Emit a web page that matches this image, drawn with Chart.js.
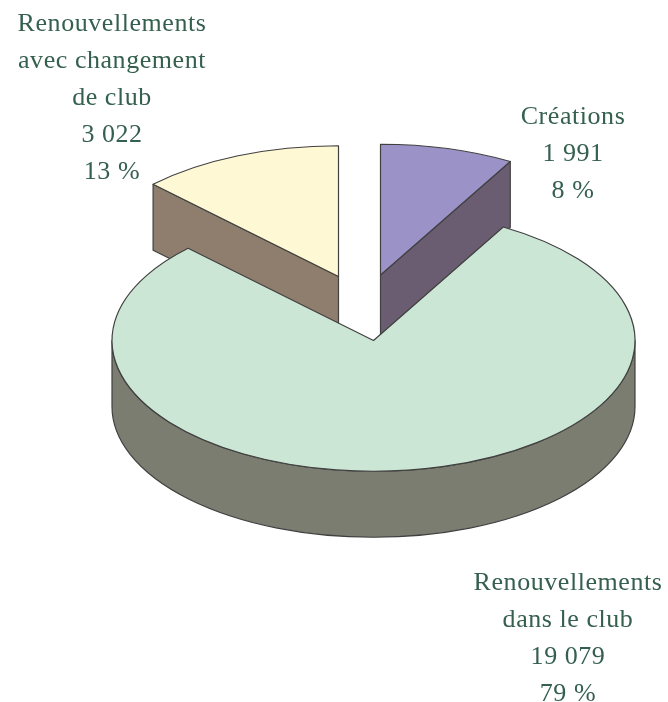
<!DOCTYPE html>
<html>
<head>
<meta charset="utf-8">
<style>
    html, body { margin: 0; background: #fff; }
    canvas { display: block; }
</style>
<script src="https://cdn.jsdelivr.net/npm/chart.js@4/dist/chart.umd.js"></script>
</head>
<body>
<canvas id="myChart" width="668" height="702"></canvas>
<script>
const categories = ['Créations', 'Renouvellements dans le club', 'Renouvellements avec changement de club'];
const values = [1991, 19079, 3022];
const valueLabels = ['1 991', '19 079', '3 022'];
const percentLabels = ['8 %', '79 %', '13 %'];
const labelLines = [['Créations'], ['Renouvellements', 'dans le club'], ['Renouvellements', 'avec changement', 'de club']];

const topColors = ['#9b93c8', '#cce6d5', '#fef9d4'];
const wallColors = ['#6b5d71', '#7b7d70', '#8f7e6e'];
const lineColor = '#404040';
const squash = 0.5;
const depth = 66;
// how far each slice is pulled out of the pie, on screen
const shifts = [[7, -65.5], [0, 0], [-35, -64]];
// last baseline and centre of each text block
const labelAnchors = [[573, 198], [568, 701], [112, 179]];

function strokeFill(ctx, color) {
    ctx.fillStyle = color;
    ctx.fill();
    ctx.stroke();
}

function radialWall(ctx, x, y, r, a, color) {
    const ex = x + r * Math.cos(a);
    const ey = y + r * squash * Math.sin(a);
    ctx.beginPath();
    ctx.moveTo(x, y);
    ctx.lineTo(ex, ey);
    ctx.lineTo(ex, ey + depth);
    ctx.lineTo(x, y + depth);
    ctx.closePath();
    strokeFill(ctx, color);
}

function drawSlice(chart, arc, i) {
    const ctx = chart.ctx;
    const x = arc.x + shifts[i][0];
    const y = arc.y + shifts[i][1];
    const r = arc.outerRadius;
    const a0 = arc.startAngle;
    const a1 = arc.endAngle;

    ctx.save();
    ctx.strokeStyle = lineColor;
    ctx.lineWidth = 1.2;
    ctx.lineJoin = 'round';

    // side faces that look towards the viewer
    if (Math.cos(a0) < -1e-6) radialWall(ctx, x, y, r, a0, wallColors[i]);
    if (Math.cos(a1) > 1e-6) radialWall(ctx, x, y, r, a1, wallColors[i]);

    // rim, only the part on the front half of the ellipse
    const from = Math.max(a0, 0);
    const to = Math.min(a1, Math.PI);
    if (to > from) {
        ctx.beginPath();
        ctx.ellipse(x, y, r, r * squash, 0, from, to);
        ctx.ellipse(x, y + depth, r, r * squash, 0, to, from, true);
        ctx.closePath();
        strokeFill(ctx, wallColors[i]);
    }

    // top face is the library's own arc, flattened
    ctx.save();
    ctx.translate(x, y);
    ctx.scale(1, squash);
    ctx.translate(-arc.x, -arc.y);
    arc.draw(ctx);
    ctx.restore();

    ctx.beginPath();
    ctx.moveTo(x, y);
    ctx.ellipse(x, y, r, r * squash, 0, a0, a1);
    ctx.closePath();
    ctx.stroke();
    ctx.restore();
}

const pie3d = {
    id: 'pie3d',
    beforeDatasetsDraw(chart) {
        const arcs = chart.getDatasetMeta(0).data;
        // pulled out slices go behind the big one
        [0, 2, 1].forEach(i => drawSlice(chart, arcs[i], i));
        return false;
    }
};

const sliceLabels = {
    id: 'sliceLabels',
    afterDraw(chart) {
        const ctx = chart.ctx;
        ctx.save();
        ctx.font = '26px "Liberation Serif"';
        ctx.letterSpacing = '0.55px';
        ctx.fillStyle = '#355f4f';
        ctx.textAlign = 'center';
        ctx.textBaseline = 'alphabetic';
        labelLines.forEach((lines, i) => {
            const all = lines.concat(valueLabels[i], percentLabels[i]);
            all.forEach((line, n) => {
                ctx.fillText(line, labelAnchors[i][0], labelAnchors[i][1] - (all.length - 1 - n) * 37);
            });
        });
        ctx.restore();
    }
};

new Chart(document.getElementById('myChart'), {
    type: 'pie',
    data: {
        labels: categories,
        datasets: [{
            data: values,
            backgroundColor: topColors,
            borderWidth: 0
        }]
    },
    options: {
        responsive: false,
        animation: false,
        layout: { padding: { left: 112, right: 33, top: 79, bottom: 100 } },
        plugins: {
            legend: { display: false },
            tooltip: { enabled: false }
        }
    },
    plugins: [pie3d, sliceLabels]
});
</script>
</body>
</html>
